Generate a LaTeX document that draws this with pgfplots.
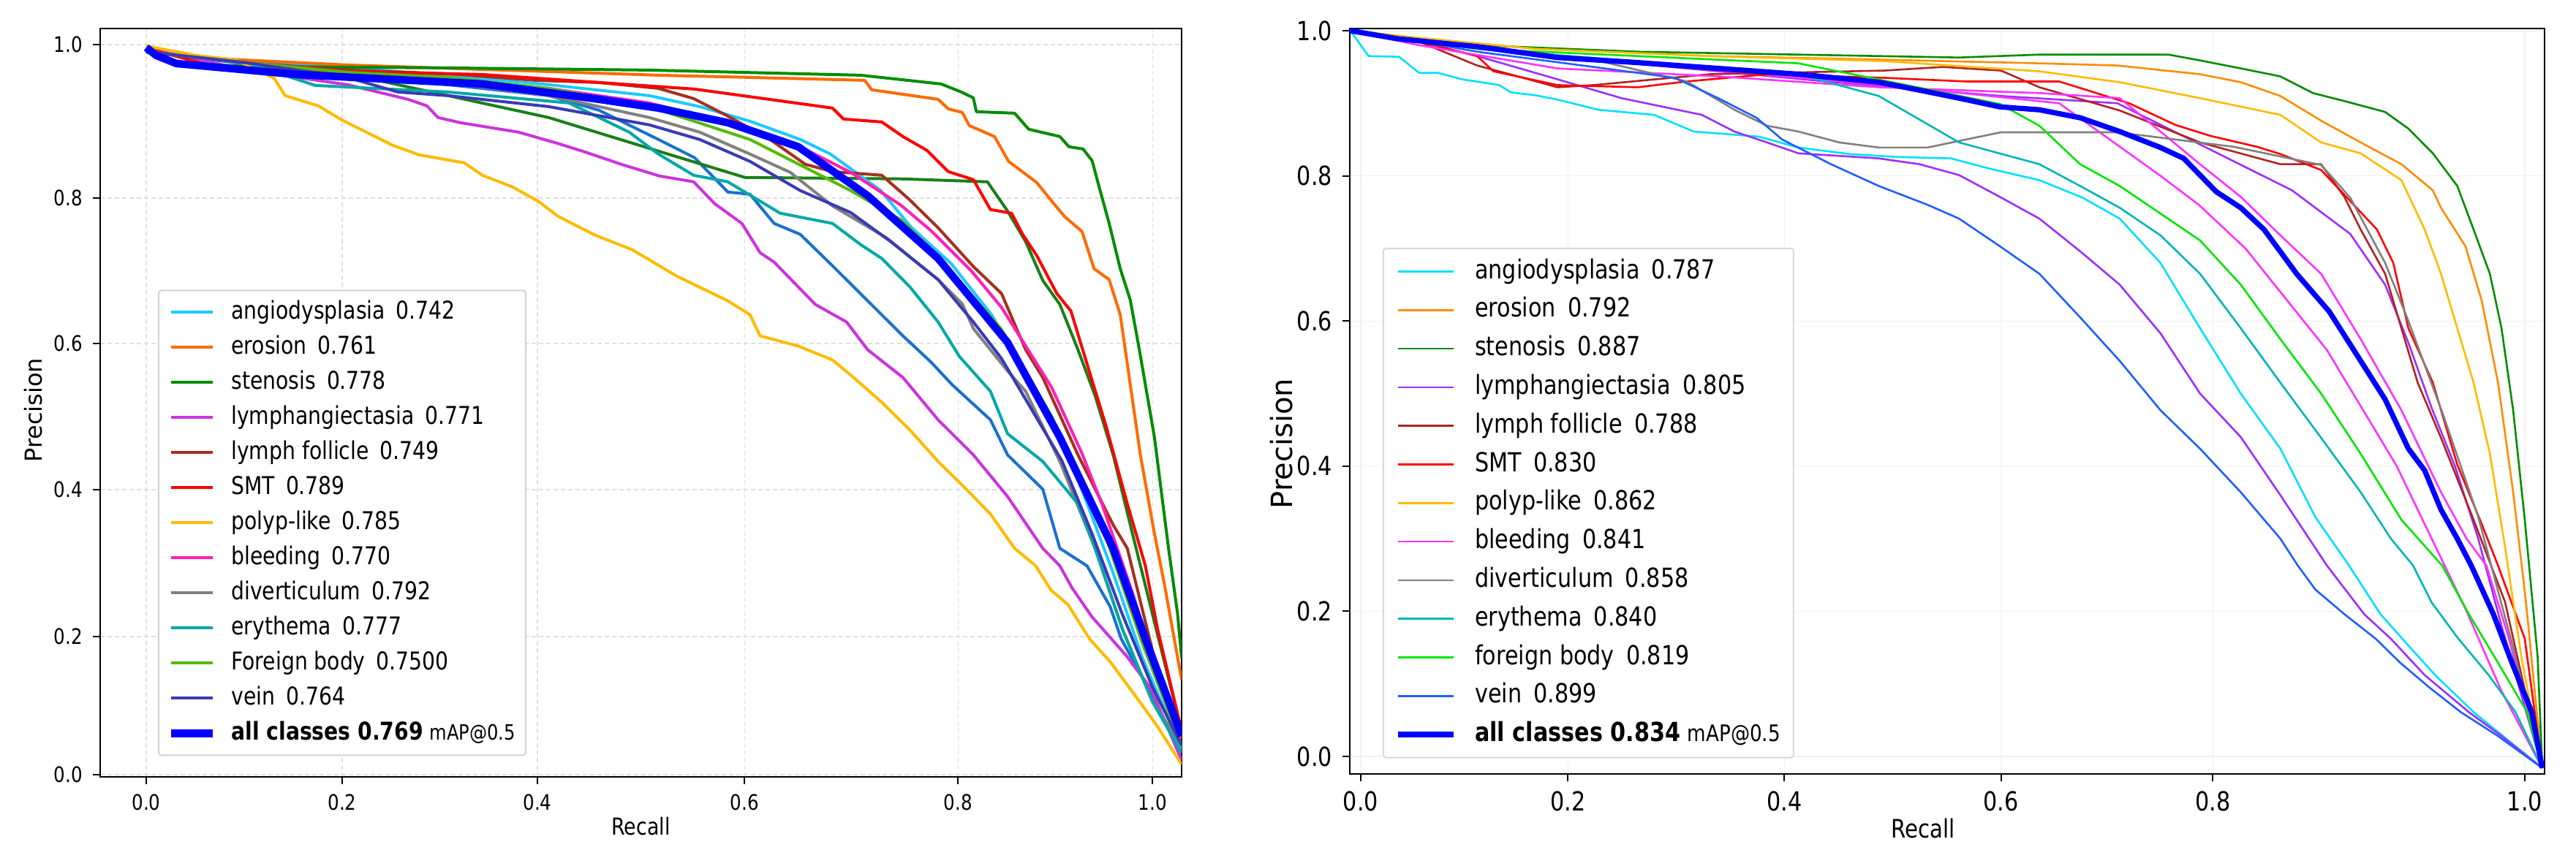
\documentclass[border=0pt]{standalone}
\usepackage{fontspec}
\setmainfont{DejaVu Sans}[FakeStretch=0.84]
\newfontfamily\ylabfont{DejaVu Sans}
\usepackage{pgfplots}
\pgfplotsset{compat=1.18}

% left colours
\definecolor{LAngio}{HTML}{1EC8FF}
\definecolor{LEros}{HTML}{FF6A00}
\definecolor{LSten}{HTML}{008C00}
\definecolor{LLang}{HTML}{CC33DD}
\definecolor{LFoll}{HTML}{A5301E}
\definecolor{LSMT}{HTML}{FF0000}
\definecolor{LPoly}{HTML}{FFBB00}
\definecolor{LBlee}{HTML}{FF1FB5}
\definecolor{LDive}{HTML}{808080}
\definecolor{LEryt}{HTML}{00A8A8}
\definecolor{LFore}{HTML}{55BB00}
\definecolor{LVein}{HTML}{3A3AB5}
\definecolor{LAll}{HTML}{0000FF}
\definecolor{LXBlue}{HTML}{1A70D0}
\definecolor{LXGreen}{HTML}{1A7F1A}
% right colours
\definecolor{RAngio}{HTML}{00E0FF}
\definecolor{REros}{HTML}{FF8C00}
\definecolor{RSten}{HTML}{008C00}
\definecolor{RLang}{HTML}{9B30FF}
\definecolor{RFoll}{HTML}{B22222}
\definecolor{RSMT}{HTML}{FF0000}
\definecolor{RPoly}{HTML}{FFBB00}
\definecolor{RBlee}{HTML}{FF33FF}
\definecolor{RDive}{HTML}{808080}
\definecolor{REryt}{HTML}{00B5B5}
\definecolor{RFore}{HTML}{00E600}
\definecolor{RVein}{HTML}{1F5FFF}
\definecolor{RAll}{HTML}{0000FF}

\pgfplotsset{
  prbase/.style={
    anchor=south west, scale only axis,
    tick pos=left, tick align=outside,
    major tick length=2.5pt,
    tick style={black, line width=0.5pt},
    axis line style={black, line width=0.7pt},
    grid=major,
    legend cell align=left,
  },
}

\begin{document}
\begin{tikzpicture}
\path[use as bounding box] (0,0) rectangle (880.75pt,293.5pt);

% ================= LEFT PANEL =================
\begin{axis}[prbase,
  at={(34.25pt,27.75pt)}, width=369.75pt, height=256pt,
  xmin=-0.0458, xmax=1.029, ymin=-0.003, ymax=1.022,
  xtick={0,0.1948,0.3888,0.5945,0.8067,1.0},
  xticklabels={0.0,0.2,0.4,0.6,0.8,1.0},
  ytick={0,0.1892,0.3904,0.5906,0.7898,1.0},
  yticklabels={0.0,0.2,0.4,0.6,0.8,1.0},
  ticklabel style={font=\fontsize{7.3}{8}\selectfont},
  grid style={color=gray!25, dash pattern=on 1.5pt off 1pt, line width=0.3pt},
  xlabel={Recall}, ylabel={\ylabfont Precision},
  xlabel style={font=\fontsize{8}{9}\selectfont, at={(axis description cs:0.5,-0.0664)}, anchor=center},
  ylabel style={font=\fontsize{8}{9}\selectfont, at={(axis description cs:-0.062,0.49)}, anchor=center},
  legend image code/.code={\draw[#1, line cap=butt] (0pt,0pt) -- (14.25pt,0pt);},
  legend style={at={(0.0534,0.651)}, anchor=north west, draw=gray!35, line width=0.5pt,
    rounded corners=1pt, fill=white, font=\fontsize{8.4}{10}\selectfont,
    inner xsep=3pt, inner ysep=1.5pt, column sep=4.5pt, row sep=0pt,
    nodes={inner xsep=0.5pt, inner ysep=0pt, text height=8.3pt, text depth=3.7pt}},
  every axis plot/.append style={line width=1pt, line join=round},
]
% extra unlabelled curves
\addplot[LXBlue, forget plot] coordinates {(0,0.99)(0.15,0.965)(0.3,0.945)(0.4,0.93)(0.45,0.91)(0.509,0.87)(0.545,0.845)(0.578,0.798)(0.6,0.795)(0.624,0.755)(0.65,0.74)(0.682,0.697)(0.717,0.649)(0.752,0.601)(0.78,0.565)(0.801,0.534)(0.839,0.486)(0.856,0.438)(0.891,0.391)(0.908,0.31)(0.935,0.286)(0.958,0.23)(0.969,0.186)(0.998,0.113)(1.029,0.03)};
\addplot[LXGreen, forget plot] coordinates {(0,0.99)(0.2,0.96)(0.4,0.9)(0.509,0.854)(0.595,0.818)(0.752,0.816)(0.836,0.812)(0.856,0.772)(0.874,0.73)(0.891,0.677)(0.908,0.644)(0.926,0.582)(0.943,0.519)(0.961,0.438)(0.978,0.342)(1.0,0.22)(1.029,0.06)};

\addplot[LAngio] coordinates {(0,0.995)(0.04,0.985)(0.1,0.978)(0.2,0.968)(0.3,0.958)(0.4,0.945)(0.5,0.93)(0.55,0.915)(0.6,0.895)(0.65,0.87)(0.68,0.85)(0.71,0.82)(0.73,0.8)(0.76,0.75)(0.8,0.7)(0.84,0.63)(0.87,0.56)(0.9,0.49)(0.93,0.39)(0.96,0.28)(0.99,0.16)(1.029,0.035)};
\addlegendentry{angiodysplasia\hspace{0.45em}0.742}
\addplot[LEros] coordinates {(0,0.995)(0.05,0.982)(0.2,0.972)(0.4,0.963)(0.509,0.958)(0.6,0.955)(0.714,0.951)(0.721,0.938)(0.787,0.925)(0.797,0.912)(0.811,0.907)(0.818,0.889)(0.843,0.874)(0.857,0.84)(0.885,0.811)(0.902,0.782)(0.913,0.764)(0.930,0.744)(0.942,0.693)(0.957,0.678)(0.968,0.63)(0.978,0.534)(0.988,0.438)(1.002,0.33)(1.012,0.26)(1.029,0.13)};
\addlegendentry{erosion\hspace{0.45em}0.761}
\addplot[LSten] coordinates {(0,0.99)(0.03,0.975)(0.1,0.97)(0.3,0.968)(0.5,0.965)(0.71,0.958)(0.79,0.946)(0.81,0.935)(0.822,0.927)(0.825,0.908)(0.863,0.906)(0.877,0.884)(0.908,0.874)(0.917,0.86)(0.931,0.857)(0.94,0.841)(0.948,0.8)(0.957,0.755)(0.968,0.693)(0.978,0.65)(0.987,0.582)(1.002,0.462)(1.016,0.31)(1.025,0.22)(1.029,0.16)};
\addlegendentry{stenosis\hspace{0.45em}0.778}
\addplot[LLang] coordinates {(0,0.995)(0.1,0.965)(0.2,0.945)(0.26,0.925)(0.279,0.916)(0.29,0.9)(0.312,0.893)(0.37,0.88)(0.408,0.865)(0.438,0.852)(0.472,0.836)(0.51,0.82)(0.544,0.812)(0.565,0.782)(0.592,0.755)(0.61,0.715)(0.624,0.702)(0.648,0.668)(0.665,0.644)(0.696,0.62)(0.717,0.582)(0.752,0.544)(0.787,0.486)(0.822,0.438)(0.856,0.381)(0.891,0.31)(0.908,0.286)(0.92,0.256)(0.94,0.216)(0.974,0.163)(0.998,0.119)(1.029,0.02)};
\addlegendentry{lymphangiectasia\hspace{0.45em}0.771}
\addplot[LFoll] coordinates {(0,0.99)(0.1,0.975)(0.2,0.965)(0.3,0.96)(0.387,0.951)(0.45,0.948)(0.509,0.94)(0.544,0.926)(0.578,0.902)(0.62,0.87)(0.655,0.836)(0.682,0.826)(0.731,0.821)(0.759,0.787)(0.787,0.749)(0.822,0.696)(0.85,0.659)(0.874,0.582)(0.891,0.544)(0.926,0.438)(0.961,0.342)(0.975,0.31)(1.0,0.17)(1.029,0.05)};
\addlegendentry{lymph follicle\hspace{0.45em}0.749}
\addplot[LSMT] coordinates {(0,0.995)(0.075,0.967)(0.334,0.959)(0.545,0.939)(0.682,0.913)(0.693,0.898)(0.731,0.894)(0.752,0.874)(0.776,0.855)(0.797,0.826)(0.822,0.815)(0.839,0.774)(0.86,0.769)(0.871,0.74)(0.885,0.711)(0.905,0.659)(0.919,0.635)(0.936,0.558)(0.954,0.477)(0.975,0.371)(0.993,0.286)(1.005,0.2)(1.029,0.06)};
\addlegendentry{SMT\hspace{0.45em}0.789}
\addplot[LPoly] coordinates {(0,0.998)(0.05,0.985)(0.089,0.979)(0.127,0.954)(0.138,0.93)(0.171,0.916)(0.194,0.897)(0.223,0.877)(0.245,0.862)(0.271,0.849)(0.316,0.838)(0.334,0.821)(0.364,0.805)(0.39,0.785)(0.409,0.765)(0.446,0.739)(0.483,0.719)(0.527,0.683)(0.578,0.649)(0.6,0.63)(0.61,0.601)(0.648,0.587)(0.682,0.568)(0.703,0.544)(0.731,0.51)(0.759,0.472)(0.787,0.429)(0.815,0.391)(0.839,0.357)(0.863,0.31)(0.884,0.286)(0.899,0.253)(0.916,0.233)(0.9375,0.186)(0.959,0.153)(0.991,0.093)(1.005,0.066)(1.029,0.014)};
\addlegendentry{polyp-like\hspace{0.45em}0.785}
\addplot[LBlee] coordinates {(0,0.99)(0.1,0.975)(0.2,0.962)(0.3,0.952)(0.4,0.94)(0.5,0.92)(0.6,0.885)(0.65,0.86)(0.7,0.825)(0.75,0.78)(0.78,0.745)(0.82,0.69)(0.85,0.64)(0.9,0.53)(0.93,0.44)(0.95,0.37)(0.98,0.25)(1.0,0.16)(1.029,0.05)};
\addlegendentry{bleeding\hspace{0.45em}0.770}
\addplot[LDive] coordinates {(0,0.99)(0.1,0.975)(0.2,0.962)(0.3,0.948)(0.4,0.93)(0.5,0.9)(0.55,0.88)(0.6,0.85)(0.64,0.825)(0.682,0.779)(0.735,0.736)(0.787,0.678)(0.811,0.645)(0.822,0.611)(0.856,0.553)(0.874,0.525)(0.908,0.429)(0.943,0.31)(0.97,0.2)(1.0,0.1)(1.029,0.04)};
\addlegendentry{diverticulum\hspace{0.45em}0.792}
\addplot[LEryt] coordinates {(0,0.99)(0.1,0.975)(0.168,0.944)(0.3,0.935)(0.42,0.92)(0.48,0.88)(0.509,0.85)(0.544,0.821)(0.578,0.812)(0.63,0.769)(0.682,0.755)(0.71,0.726)(0.731,0.707)(0.759,0.668)(0.787,0.62)(0.808,0.573)(0.839,0.525)(0.856,0.467)(0.891,0.429)(0.926,0.371)(0.943,0.31)(0.97,0.2)(1.0,0.1)(1.029,0.03)};
\addlegendentry{erythema\hspace{0.45em}0.777}
\addplot[LFore] coordinates {(0,0.99)(0.1,0.975)(0.2,0.962)(0.3,0.955)(0.4,0.94)(0.5,0.915)(0.6,0.87)(0.7,0.8)(0.75,0.76)(0.78,0.72)(0.85,0.61)(0.9,0.49)(0.95,0.34)(0.99,0.18)(1.029,0.04)};
\addlegendentry{Foreign body\hspace{0.45em}0.7500}
\addplot[LVein] coordinates {(0,0.99)(0.1,0.975)(0.2,0.955)(0.25,0.935)(0.3,0.93)(0.4,0.915)(0.5,0.89)(0.55,0.87)(0.6,0.84)(0.65,0.8)(0.7,0.77)(0.74,0.73)(0.787,0.678)(0.822,0.62)(0.85,0.57)(0.88,0.5)(0.91,0.43)(0.94,0.33)(0.97,0.22)(1.0,0.12)(1.029,0.04)};
\addlegendentry{vein\hspace{0.45em}0.764}
\addplot[LAll, line width=2.6pt] coordinates {(0,0.996)(0.01,0.985)(0.03,0.974)(0.149,0.959)(0.334,0.946)(0.45,0.925)(0.509,0.913)(0.578,0.893)(0.648,0.86)(0.717,0.793)(0.787,0.707)(0.856,0.592)(0.908,0.462)(0.961,0.31)(0.993,0.186)(1.029,0.053)};
\addlegendentry{\textbf{all classes 0.769} {\fontsize{7.2}{8}\selectfont mAP@0.5}}
\end{axis}

% ================= RIGHT PANEL =================
\begin{axis}[prbase,
  at={(461.5pt,28.75pt)}, width=408.5pt, height=255pt,
  xmin=-0.0094, xmax=1.017, ymin=-0.0242, ymax=1.003,
  xtick={0,0.178,0.364,0.55,0.732,1.0},
  xticklabels={0.0,0.2,0.4,0.6,0.8,1.0},
  ytick={0,0.2,0.4,0.6,0.8,1.0},
  yticklabels={0.0,0.2,0.4,0.6,0.8,1.0},
  ticklabel style={font=\fontsize{9}{10}\selectfont},
  axis line style={black, line width=0.55pt},
  grid style={color=gray!12, line width=0.3pt},
  xlabel={Recall}, ylabel={\ylabfont Precision},
  xlabel style={font=\fontsize{8.7}{10}\selectfont, at={(axis description cs:0.48,-0.0735)}, anchor=center},
  ylabel style={font=\fontsize{10}{11}\selectfont, at={(axis description cs:-0.057,0.443)}, anchor=center},
  legend image code/.code={\draw[#1, line cap=butt] (0pt,0pt) -- (19pt,0pt);},
  legend style={at={(0.0275,0.706)}, anchor=north west, draw=gray!30, line width=0.5pt,
    rounded corners=1pt, fill=white, font=\fontsize{9}{11}\selectfont,
    inner xsep=4pt, inner ysep=1.3pt, column sep=6pt, row sep=0pt,
    nodes={inner xsep=0.5pt, inner ysep=0pt, text height=9pt, text depth=4.2pt}},
  every axis plot/.append style={line width=0.65pt, line join=round},
]
\addplot[RLang, forget plot] coordinates {(-0.009,1.0)(0.2,0.96)(0.4,0.93)(0.55,0.91)(0.65,0.9)(0.7,0.86)(0.75,0.82)(0.8,0.78)(0.85,0.72)(0.88,0.65)(0.9,0.57)(0.92,0.48)(0.94,0.4)(0.96,0.3)(0.98,0.18)(1.015,-0.016)};
\addplot[RBlee, forget plot] coordinates {(-0.009,1.0)(0.2,0.96)(0.45,0.925)(0.6,0.9)(0.687,0.8)(0.72,0.76)(0.76,0.7)(0.8,0.62)(0.83,0.56)(0.86,0.48)(0.89,0.4)(0.92,0.3)(0.95,0.2)(0.98,0.09)(1.015,-0.016)};

\addplot[RAngio] coordinates {(-0.009,1.0)(0.0067,0.965)(0.033,0.964)(0.05,0.942)(0.066,0.942)(0.087,0.933)(0.119,0.925)(0.129,0.915)(0.15,0.911)(0.169,0.905)(0.204,0.891)(0.252,0.884)(0.286,0.861)(0.342,0.854)(0.376,0.839)(0.42,0.83)(0.46,0.826)(0.507,0.824)(0.54,0.81)(0.583,0.794)(0.62,0.77)(0.652,0.741)(0.687,0.68)(0.721,0.59)(0.756,0.5)(0.79,0.424)(0.82,0.33)(0.849,0.263)(0.876,0.196)(0.901,0.151)(0.923,0.112)(0.956,0.061)(1.015,-0.016)};
\addlegendentry{angiodysplasia\hspace{0.45em}0.787}
\addplot[REros] coordinates {(-0.009,1.0)(0.05,0.99)(0.15,0.975)(0.3,0.965)(0.45,0.96)(0.583,0.955)(0.65,0.952)(0.721,0.94)(0.756,0.929)(0.79,0.91)(0.825,0.876)(0.859,0.846)(0.894,0.816)(0.921,0.78)(0.928,0.756)(0.949,0.703)(0.963,0.628)(0.977,0.515)(0.99,0.364)(1.001,0.213)(1.015,-0.016)};
\addlegendentry{erosion\hspace{0.45em}0.792}
\addplot[RSten] coordinates {(-0.009,1.0)(0.02,0.99)(0.1,0.98)(0.238,0.971)(0.376,0.967)(0.514,0.963)(0.583,0.967)(0.694,0.967)(0.721,0.959)(0.756,0.948)(0.79,0.937)(0.818,0.914)(0.845,0.903)(0.88,0.888)(0.9,0.865)(0.921,0.831)(0.942,0.786)(0.956,0.726)(0.97,0.665)(0.98,0.59)(0.99,0.477)(1.0,0.326)(1.011,0.138)(1.015,-0.016)};
\addlegendentry{stenosis\hspace{0.45em}0.887}
\addplot[RLang] coordinates {(-0.009,1.0)(0.05,0.985)(0.1,0.965)(0.169,0.933)(0.224,0.907)(0.293,0.884)(0.321,0.861)(0.349,0.846)(0.376,0.831)(0.445,0.824)(0.48,0.816)(0.514,0.801)(0.549,0.771)(0.583,0.741)(0.618,0.696)(0.652,0.65)(0.687,0.583)(0.721,0.5)(0.756,0.44)(0.79,0.36)(0.83,0.263)(0.862,0.196)(0.885,0.162)(0.914,0.112)(0.952,0.061)(0.98,0.028)(1.015,-0.016)};
\addlegendentry{lymphangiectasia\hspace{0.45em}0.805}
\addplot[RFoll] coordinates {(-0.009,1.0)(0.05,0.985)(0.1,0.952)(0.135,0.937)(0.169,0.922)(0.2,0.925)(0.3,0.94)(0.45,0.945)(0.5,0.95)(0.55,0.945)(0.583,0.922)(0.652,0.89)(0.721,0.846)(0.79,0.816)(0.825,0.816)(0.845,0.771)(0.859,0.726)(0.88,0.665)(0.894,0.59)(0.908,0.515)(0.928,0.439)(0.956,0.326)(0.983,0.213)(1.015,-0.016)};
\addlegendentry{lymph follicle\hspace{0.45em}0.788}
\addplot[RSMT] coordinates {(-0.009,1.0)(0.05,0.985)(0.1,0.965)(0.114,0.944)(0.169,0.925)(0.238,0.922)(0.28,0.93)(0.35,0.94)(0.45,0.935)(0.52,0.93)(0.6,0.93)(0.64,0.91)(0.66,0.9)(0.7,0.87)(0.73,0.855)(0.77,0.84)(0.79,0.83)(0.825,0.808)(0.873,0.726)(0.887,0.68)(0.9,0.59)(0.921,0.515)(0.942,0.402)(0.963,0.32)(0.977,0.263)(1.0,0.162)(1.015,-0.016)};
\addlegendentry{SMT\hspace{0.45em}0.830}
\addplot[RPoly] coordinates {(-0.009,1.0)(0.05,0.99)(0.15,0.975)(0.3,0.965)(0.45,0.958)(0.583,0.944)(0.652,0.929)(0.721,0.907)(0.79,0.884)(0.825,0.846)(0.859,0.831)(0.894,0.794)(0.914,0.726)(0.928,0.665)(0.942,0.59)(0.956,0.515)(0.97,0.417)(0.983,0.289)(0.997,0.138)(1.015,-0.016)};
\addlegendentry{polyp-like\hspace{0.45em}0.862}
\addplot[RBlee] coordinates {(-0.009,1.0)(0.05,0.98)(0.169,0.948)(0.307,0.937)(0.445,0.922)(0.583,0.914)(0.652,0.907)(0.687,0.861)(0.721,0.816)(0.756,0.771)(0.79,0.718)(0.825,0.665)(0.859,0.575)(0.894,0.477)(0.928,0.364)(0.95,0.3)(0.967,0.263)(0.985,0.17)(1.0,0.08)(1.015,-0.016)};
\addlegendentry{bleeding\hspace{0.45em}0.841}
\addplot[RDive] coordinates {(-0.009,1.0)(0.1,0.975)(0.2,0.96)(0.28,0.93)(0.321,0.891)(0.349,0.869)(0.376,0.861)(0.411,0.846)(0.445,0.839)(0.487,0.839)(0.55,0.86)(0.65,0.86)(0.75,0.84)(0.825,0.815)(0.85,0.77)(0.88,0.68)(0.9,0.6)(0.93,0.47)(0.96,0.33)(0.99,0.15)(1.015,-0.016)};
\addlegendentry{diverticulum\hspace{0.45em}0.858}
\addplot[REryt] coordinates {(-0.009,1.0)(0.1,0.975)(0.3,0.95)(0.376,0.94)(0.445,0.91)(0.514,0.846)(0.583,0.816)(0.618,0.786)(0.652,0.756)(0.687,0.718)(0.721,0.665)(0.756,0.59)(0.79,0.515)(0.825,0.439)(0.859,0.364)(0.885,0.3)(0.904,0.263)(0.92,0.212)(0.943,0.162)(0.969,0.112)(0.992,0.061)(1.015,-0.016)};
\addlegendentry{erythema\hspace{0.45em}0.840}
\addplot[RFore] coordinates {(-0.009,1.0)(0.1,0.975)(0.376,0.955)(0.549,0.899)(0.583,0.869)(0.618,0.816)(0.652,0.786)(0.687,0.748)(0.721,0.711)(0.756,0.65)(0.79,0.575)(0.825,0.5)(0.859,0.417)(0.894,0.326)(0.929,0.263)(0.952,0.196)(0.977,0.129)(1.002,0.061)(1.015,-0.016)};
\addlegendentry{foreign body\hspace{0.45em}0.819}
\addplot[RVein] coordinates {(-0.009,1.0)(0.05,0.985)(0.1,0.971)(0.2,0.95)(0.27,0.935)(0.307,0.907)(0.34,0.88)(0.362,0.85)(0.404,0.816)(0.445,0.786)(0.487,0.76)(0.514,0.741)(0.549,0.703)(0.583,0.665)(0.618,0.605)(0.652,0.545)(0.687,0.477)(0.721,0.424)(0.756,0.364)(0.79,0.3)(0.805,0.263)(0.82,0.23)(0.845,0.196)(0.872,0.162)(0.893,0.129)(0.918,0.095)(0.945,0.061)(0.977,0.028)(1.015,-0.016)};
\addlegendentry{vein\hspace{0.45em}0.899}
\addplot[RAll, line width=1.8pt] coordinates {(-0.009,1.0)(0.031,0.989)(0.1,0.978)(0.169,0.963)(0.238,0.956)(0.307,0.948)(0.376,0.94)(0.445,0.929)(0.48,0.918)(0.514,0.907)(0.549,0.895)(0.583,0.891)(0.618,0.88)(0.652,0.861)(0.687,0.839)(0.707,0.824)(0.721,0.801)(0.735,0.778)(0.756,0.756)(0.776,0.726)(0.804,0.665)(0.832,0.613)(0.859,0.545)(0.88,0.492)(0.9,0.424)(0.914,0.394)(0.928,0.34)(0.942,0.3)(0.954,0.263)(0.973,0.196)(0.989,0.129)(1.006,0.061)(1.015,-0.016)};
\addlegendentry{\textbf{all classes 0.834} {\fontsize{7.8}{9}\selectfont mAP@0.5}}
\end{axis}
\end{tikzpicture}
\end{document}
